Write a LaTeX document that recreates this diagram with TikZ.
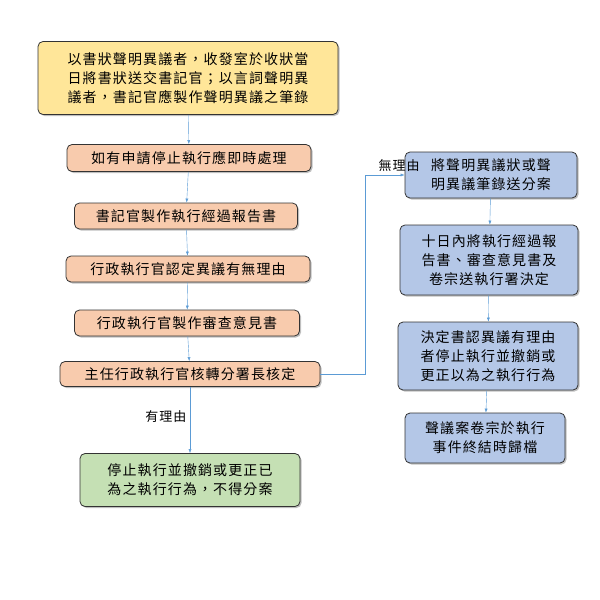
\documentclass[tikz,border=0pt]{standalone}
\usepackage{fontspec}
\setmainfont{Noto Sans CJK TC}[LetterSpace=8]
\usetikzlibrary{shadows,arrows.meta}
\definecolor{yel}{HTML}{FFE699}
\definecolor{sal}{HTML}{F8CBAD}
\definecolor{grn}{HTML}{C5E0B4}
\definecolor{blu}{HTML}{B4C7E7}
\definecolor{lnk}{HTML}{5B9BD5}
\tikzset{
  stepbox/.style={draw=black!80, thick, rounded corners=5pt, align=center,
    font=\fontsize{14}{19}\selectfont, drop shadow={opacity=0.5,shadow xshift=1.5pt,shadow yshift=-1.5pt},
    inner sep=3pt},
  link/.style={draw=lnk, -{Latex[length=4pt,width=3pt]}},
}
\begin{document}
\begin{tikzpicture}[x=1pt,y=-1pt]
\useasboundingbox (0,0) rectangle (600,600);
% left column
\node[stepbox, fill=yel, minimum width=300, minimum height=73] (N1) at (188,78)
  {以書狀聲明異議者，收發室於收狀當\\日將書狀送交書記官；以言詞聲明異\\議者，書記官應製作聲明異議之筆錄};
\node[stepbox, fill=sal, minimum width=244, minimum height=27] (N2) at (189,158) {如有申請停止執行應即時處理};
\node[stepbox, fill=sal, minimum width=223, minimum height=26] (N3) at (186,216) {書記官製作執行經過報告書};
\node[stepbox, fill=sal, minimum width=244, minimum height=26] (N4) at (188,269) {行政執行官認定異議有無理由};
\node[stepbox, fill=sal, minimum width=225, minimum height=26] (N5) at (187,323) {行政執行官製作審查意見書};
\node[stepbox, fill=sal, minimum width=260, minimum height=25] (N6) at (190,374) {主任行政執行官核轉分署長核定};
\node[stepbox, fill=grn, minimum width=220, minimum height=53] (N7) at (190,480)
  {停止執行並撤銷或更正已\\為之執行行為，不得分案};
% right column
\node[stepbox, fill=blu, minimum width=172, minimum height=46] (R1) at (491,175)
  {將聲明異議狀或聲\\明異議筆錄送分案};
\node[stepbox, fill=blu, minimum width=178, minimum height=70] (R2) at (489,260)
  {十日內將執行經過報\\告書、審查意見書及\\卷宗送執行署決定};
\node[stepbox, fill=blu, minimum width=180, minimum height=68] (R3) at (488,356)
  {決定書認異議有理由\\者停止執行並撤銷或\\更正以為之執行行為};
\node[stepbox, fill=blu, minimum width=160, minimum height=50] (R4) at (485,438)
  {聲議案卷宗於執行\\事件終結時歸檔};
% connectors
\draw[link] (N1) -- (N2);
\draw[link] (N2) -- (N3);
\draw[link] (N3) -- (N4);
\draw[link] (N4) -- (N5);
\draw[link] (N5) -- (N6);
\draw[link] (N6) -- node[pos=0.45, left, font=\fontsize{13}{13}\selectfont] {有理由} (N7);
\draw[link] (N6.east) -- (365,374) |- node[pos=0.93, above, font=\fontsize{13}{13}\selectfont] {無理由} (R1.west);
\draw[link] (R1) -- (R2);
\draw[link] (R2) -- (R3);
\draw[link] (R3) -- (R4);
\end{tikzpicture}
\end{document}
